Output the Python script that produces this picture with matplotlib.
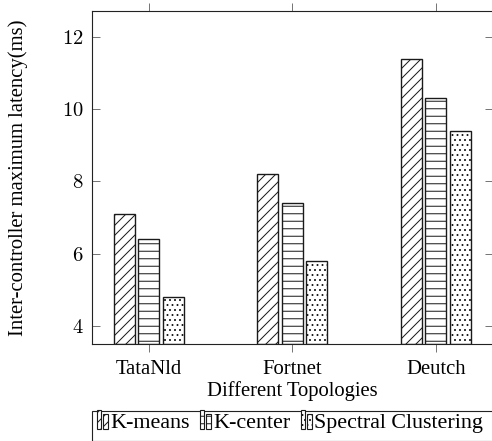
import numpy as np
import matplotlib
matplotlib.use("Agg")
import matplotlib.pyplot as plt
from matplotlib.patches import Rectangle
from matplotlib.legend_handler import HandlerBase

# data
topologies = ['TataNld', 'Fortnet', 'Deutch']
methods = ['K-means', 'K-center', 'Spectral Clustering']
kmeans = [7.1, 8.2, 11.4]
kcenter = [6.4, 7.4, 10.3]
spectral = [4.8, 5.8, 9.4]
yticks = [4, 6, 8, 10, 12]

plt.rcParams['font.family'] = 'Liberation Serif'
plt.rcParams['mathtext.fontset'] = 'cm'
plt.rcParams['hatch.linewidth'] = 0.8

DPI = 90
W, H = 492, 441
fs = 16.5
lfs = 17.6

fig = plt.figure(figsize=(W / DPI, H / DPI), dpi=DPI)
ax = fig.add_axes([92 / W, (H - 344) / H, (493 - 92) / W, (344 - 11) / H])

x = np.arange(len(topologies))
bw = 0.146
step = 0.171
hatches = ['///', '--', '...']
series = [kmeans, kcenter, spectral]
for i, (vals, hat) in enumerate(zip(series, hatches)):
    ax.bar(x + (i - 1) * step, np.array(vals) - 3.5, bw, bottom=3.5,
           facecolor='white', edgecolor='#1a1a1a', linewidth=1.1, hatch=hat)

ax.set_xlim(-0.397, 2.4)
ax.set_ylim(3.5, 12.72)

ax.set_yticks(yticks)
ax.set_yticklabels(['$%d$' % v for v in yticks], fontsize=fs)
ax.set_xticks(x)
ax.set_xticklabels(topologies, fontsize=fs)
ax.tick_params(axis='y', direction='in', length=6.4, width=0.8, color='#777777',
               left=True, right=True, pad=7)
ax.tick_params(axis='x', direction='out', length=6.4, width=0.8, color='#777777',
               top=True, bottom=True, pad=6)
for s in ax.spines.values():
    s.set_linewidth(0.9)
    s.set_color('#222222')

fig.text(18.5 / W, 1 - 177.5 / H, 'Inter-controller maximum latency(ms)',
         rotation=90, ha='center', va='center', fontsize=fs)
fig.text(292.5 / W, 1 - 391 / H, 'Different Topologies',
         ha='center', va='center', fontsize=fs)


class TwoBars(HandlerBase):
    def __init__(self, hatch):
        super().__init__()
        self.hatch = hatch

    def create_artists(self, legend, orig, xd, yd, w, h, fontsize, trans):
        r1 = Rectangle((-xd, -yd - 0.05 * h), 0.4 * w, 1.25 * h, transform=trans,
                       facecolor='white', edgecolor='#1a1a1a', lw=0.9, hatch=self.hatch)
        r2 = Rectangle((-xd + 0.58 * w, -yd - 0.05 * h), 0.4 * w, 1.0 * h, transform=trans,
                       facecolor='white', edgecolor='#1a1a1a', lw=0.9, hatch=self.hatch)
        return [r1, r2]


handles = [Rectangle((0, 0), 1, 1) for _ in methods]
hmap = {h: TwoBars(hat) for h, hat in zip(handles, hatches)}
fig.legend(handles, methods, handler_map=hmap, ncol=3, frameon=False,
           loc='upper left', bbox_to_anchor=(97 / W, 1 - 413 / H),
           fontsize=lfs, handlelength=0.5, handletextpad=0.12,
           columnspacing=0.45, borderaxespad=0, borderpad=0)
fig.add_artist(Rectangle((92 / W, 0), 1, 1 - 411 / H, transform=fig.transFigure,
                         facecolor='none', edgecolor='#222222', lw=0.9))

fig.savefig('out.png', dpi=DPI)
